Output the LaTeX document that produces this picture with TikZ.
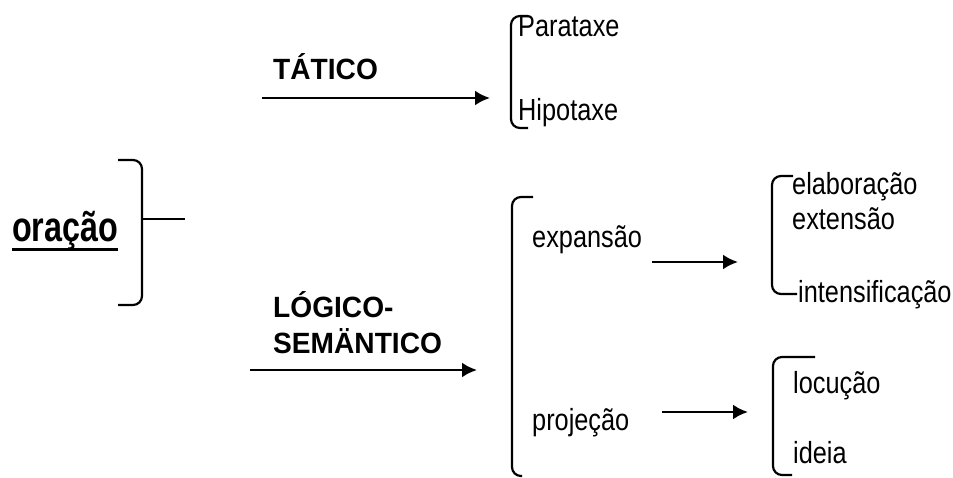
\documentclass[tikz,border=0pt]{standalone}
\usepackage{fontspec}
\setmainfont{Liberation Sans}
\newfontfamily\corpo{Liberation Sans}[FakeStretch=0.83]
\newfontfamily\titulo{Liberation Sans}[FakeStretch=0.96]
\newfontfamily\raiz{Liberation Sans}[FakeStretch=0.77]
\usetikzlibrary{arrows.meta, positioning}
\tikzstyle{fleche} = [-{Latex[length=15pt, width=15pt]}, line width = 2.6]
\tikzstyle{chave} = [line width = 2.2, rounded corners = 9pt]

\begin{document}
\begin{tikzpicture}[x = 1pt, y = -1pt,
    texto/.style = {anchor = base west, inner sep = 0pt, font = \fontsize{30.5}{34}\corpo},
    rotulo/.style = {anchor = base west, inner sep = 0pt, font = \fontsize{29.3}{33}\titulo\bfseries}]
    \useasboundingbox (0, 0) rectangle (953, 478);
    % Raiz
    \node[inner sep = 0pt, anchor = base west, font = \fontsize{42}{46}\raiz\bfseries] (oracao) at (12, 242) {oração};
    \draw[line width = 3.2] ([yshift = -7.5pt]oracao.base west) -- ([yshift = -7.5pt]oracao.base east);
    \draw[chave] (118, 160) -- (142, 160) -- (142, 305) -- (118, 305);
    \coordinate (raiz-s) at (142, 219);
    \coordinate (raiz-e) at (185, 219);
    \draw[line width = 2] (raiz-s) -- (raiz-e);
    % Tático
    \node[rotulo] (tatico) at (273, 80) {TÁTICO};
    \coordinate (tat-s) at (262, 98);
    \coordinate (tat-e) at (490, 98);
    \draw[fleche] (tat-s) -- (tat-e);
    \draw[chave] (528, 16) -- (511, 16) -- (511, 128) -- (528, 128);
    \node[texto] (parataxe) at (518, 37) {Parataxe};
    \node[texto] (hipotaxe) at (518, 121) {Hipotaxe};
    % Lógico-semântico
    \node[rotulo] (logico) at (273, 317) {LÓGICO-};
    \node[rotulo] (semantico) at (273, 353) {SEMÄNTICO};
    \coordinate (ls-s) at (250, 370);
    \coordinate (ls-e) at (477, 370);
    \draw[fleche] (ls-s) -- (ls-e);
    \draw[chave] (533, 197) -- (512, 197) -- (512, 476) -- (522, 476);
    \node[texto] (expansao) at (532, 248) {expansão};
    \node[texto] (projecao) at (532, 430) {projeção};
    % Expansão
    \coordinate (exp-s) at (652, 262);
    \coordinate (exp-e) at (738, 262);
    \draw[fleche] (exp-s) -- (exp-e);
    \draw[chave] (793, 176) -- (772, 176) -- (772, 294) -- (797, 294);
    \node[texto] (elaboracao) at (792, 195) {elaboração};
    \node[texto] (extensao) at (792, 230) {extensão};
    \node[texto] (intensificacao) at (798, 302) {intensificação};
    % Projeção
    \coordinate (proj-s) at (662, 412);
    \coordinate (proj-e) at (748, 412);
    \draw[fleche] (proj-s) -- (proj-e);
    \draw[chave] (815, 357) -- (773, 357) -- (773, 475) -- (792, 475);
    \node[texto] (locucao) at (793, 393) {locução};
    \node[texto] (ideia) at (793, 463) {ideia};
\end{tikzpicture}
\end{document}
